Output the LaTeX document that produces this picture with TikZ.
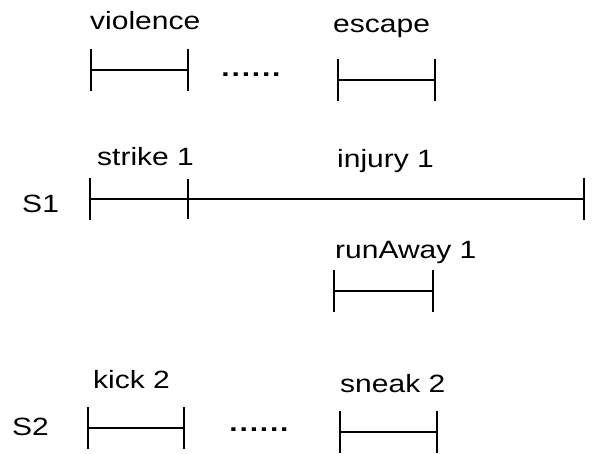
\documentclass[tikz,border=0pt]{standalone}
\usepackage{fontspec}
\setmainfont{Liberation Sans}
\usetikzlibrary{arrows.meta}

\begin{document}
\begin{tikzpicture}[x=1pt,y=-1pt,
	span/.style={line width=1.8pt,{Bar[width=42pt]}-{Bar[width=42pt]}},
	lbl/.style={font=\fontsize{25}{28}\selectfont,inner sep=0pt,anchor=base west,xscale=1.2,transform shape}]
	\useasboundingbox (0,0) rectangle (594,454);
	% top row
	\node[lbl] (violence) at (90,30) {violence};
	\node[lbl] (escape) at (333,33) {escape};
	\coordinate (v0) at (90,70);
	\coordinate (v1) at (189,70);
	\coordinate (e0) at (337,80);
	\coordinate (e1) at (436,80);
	\draw[span] (v0) -- (v1);
	\draw[span] (e0) -- (e1);
	\node[lbl,anchor=base] (dots1) at (251,77) {\bfseries.\kern1.5pt.\kern1.5pt.\kern1.5pt.\kern1.5pt.\kern1.5pt.};
	
	%S1
	\node[lbl] (S1) at (22,213) {S1};
	\node[lbl] (strike) at (97,166) {strike 1};
	\node[lbl] (injury) at (337,168) {injury 1};
	\coordinate (s0) at (89,199);
	\coordinate (s1) at (188,199);
	\coordinate (i1) at (585,199);
	\draw[span] (s0) -- (i1);
	\draw[line width=1.8pt] (s1) ++(0,-20) -- ++(0,40);
	\node[lbl] (runaway) at (335,259) {runAway 1};
	\coordinate (r0) at (333,291);
	\coordinate (r1) at (434,291);
	\draw[span] (r0) -- (r1);
	
	%S2
	\node[lbl] (S2) at (12,435) {S2};
	\node[lbl] (kick) at (93,388) {kick 2};
	\node[lbl] (sneak) at (340,392) {sneak 2};
	\coordinate (k0) at (87,428);
	\coordinate (k1) at (185,428);
	\coordinate (n0) at (339,432);
	\coordinate (n1) at (438,432);
	\draw[span] (k0) -- (k1);
	\draw[span] (n0) -- (n1);
	\node[lbl,anchor=base] (dots2) at (259,431) {\bfseries.\kern1.5pt.\kern1.5pt.\kern1.5pt.\kern1.5pt.\kern1.5pt.};
\end{tikzpicture}
\end{document}
